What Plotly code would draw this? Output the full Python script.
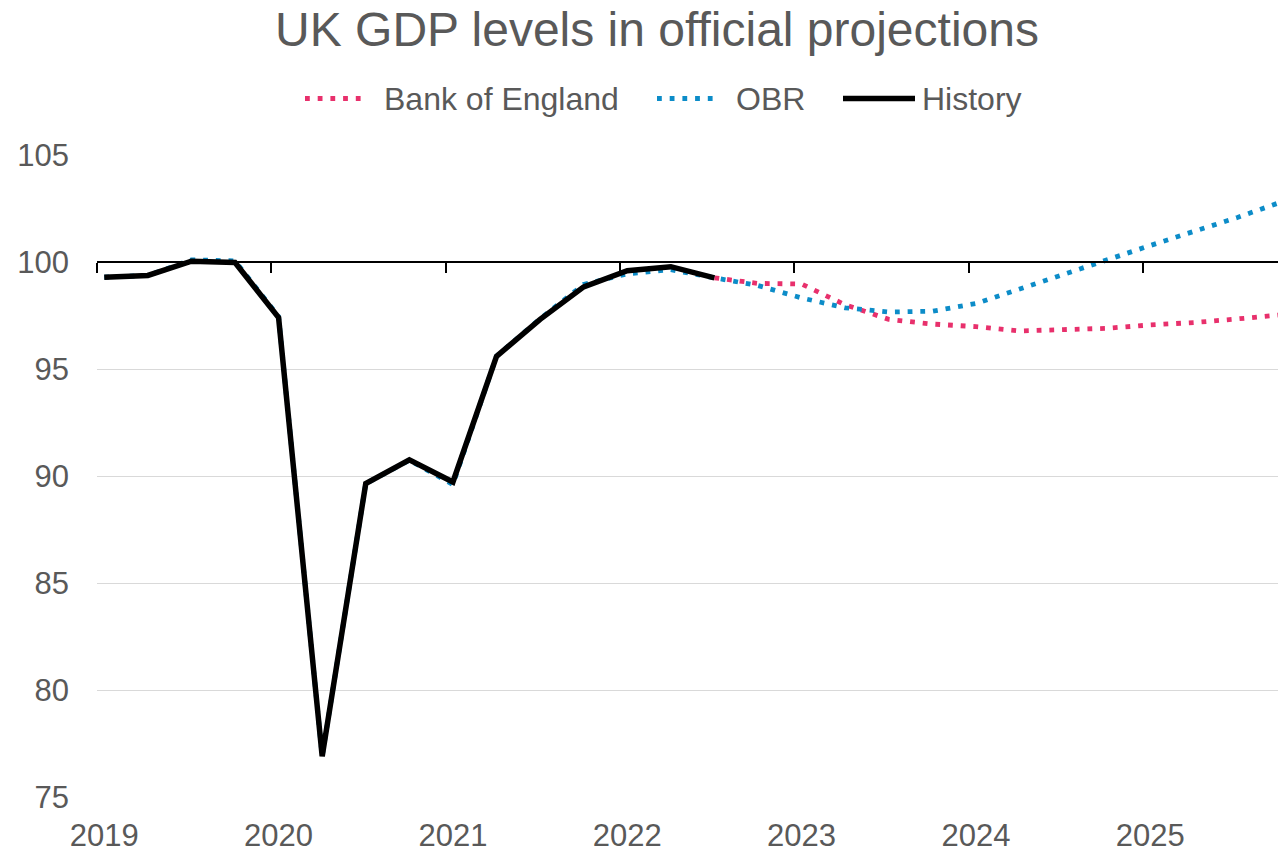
import plotly.graph_objects as go

# Quarterly periods covered by the chart
quarters = [
    "2019 Q1", "2019 Q2", "2019 Q3", "2019 Q4",
    "2020 Q1", "2020 Q2", "2020 Q3", "2020 Q4",
    "2021 Q1", "2021 Q2", "2021 Q3", "2021 Q4",
    "2022 Q1", "2022 Q2", "2022 Q3", "2022 Q4",
    "2023 Q1", "2023 Q2", "2023 Q3", "2023 Q4",
    "2024 Q1", "2024 Q2", "2024 Q3", "2024 Q4",
    "2025 Q1", "2025 Q2", "2025 Q3", "2025 Q4",
]

# Outturn GDP level, 2019 Q1 - 2022 Q3
history = [99.29, 99.37, 100.04, 99.98, 97.40, 76.9, 89.65, 90.76,
           89.72, 95.59, 97.32, 98.84, 99.59, 99.78, 99.26]

# OBR projection (includes its own back-series), 2019 Q1 - 2025 Q4
obr = [99.29, 99.37, 100.10, 100.05, 97.45, 76.9, 89.65, 90.74,
       89.60, 95.60, 97.35, 98.95, 99.45, 99.64, 99.26, 98.90,
       98.32, 97.86, 97.66, 97.70, 98.06, 98.75, 99.43, 100.10,
       100.77, 101.43, 102.08, 102.80]

# Bank of England projection, 2022 Q3 - 2025 Q4
boe = [99.26, 99.00, 98.97, 98.00, 97.32, 97.10, 96.98, 96.78,
       96.84, 96.90, 97.06, 97.17, 97.34, 97.53]

years = [2019, 2020, 2021, 2022, 2023, 2024, 2025]
y_ticks = [75, 80, 85, 90, 95, 100, 105]

colors = {"Bank of England": "#E8306C", "OBR": "#0C8CC8", "History": "#000000"}

TEXT = "#595959"
FONT = "Liberation Sans, Arial, sans-serif"
W, H = 1278, 852
ML, MR, MT, MB = 97, 0, 155, 55
DOT = "4.8px,7.9px"
DOT_W = 4.8
HIST_W = 5.5


def qpos(label):
    # each quarter is placed in the middle of its first month
    y, q = label.split(" Q")
    return int(y) + (int(q) - 1) / 4 + 1 / 24


x_all = [qpos(q) for q in quarters]
x_hist = x_all[:len(history)]
x_boe = x_all[len(quarters) - len(boe):]
x_range = [2019, 2019 + (W - ML) / 174.33]

fig = go.Figure()
fig.add_trace(go.Scatter(x=x_boe, y=boe, mode="lines", name="Bank of England",
                         line=dict(color=colors["Bank of England"], width=DOT_W, dash=DOT),
                         showlegend=False))
fig.add_trace(go.Scatter(x=x_all, y=obr, mode="lines", name="OBR",
                         line=dict(color=colors["OBR"], width=DOT_W, dash=DOT),
                         showlegend=False))
fig.add_trace(go.Scatter(x=x_hist, y=history, mode="lines", name="History",
                         line=dict(color=colors["History"], width=HIST_W),
                         showlegend=False))
# carrier for the axis that crosses at 100
fig.add_trace(go.Scatter(x=[], y=[], xaxis="x2", showlegend=False, hoverinfo="skip"))

# legend drawn by hand above the plot
plot_w = W - ML - MR
plot_h = H - MT - MB


def px_x(px):
    return (px - ML) / plot_w


def px_y(py):
    return (H - MB - py) / plot_h


legend_items = [
    ("Bank of England", 305, 368, 382),
    ("OBR", 657, 720, 734),
    ("History", 843, 915, 920),
]
shapes = []
annotations = []
LEG_Y = 98.5
for name, x0, x1, tx in legend_items:
    if name == "History":
        line = dict(color=colors[name], width=HIST_W)
    else:
        line = dict(color=colors[name], width=DOT_W, dash=DOT)
    shapes.append(dict(type="line", xref="paper", yref="paper",
                       x0=px_x(x0), x1=px_x(x1), y0=px_y(LEG_Y), y1=px_y(LEG_Y),
                       line=line))
    annotations.append(dict(text=name, xref="paper", yref="paper",
                            x=px_x(tx), y=px_y(LEG_Y), xanchor="left", yanchor="middle",
                            showarrow=False, font=dict(size=32, color=TEXT, family=FONT)))

fig.update_layout(
    width=W, height=H, autosize=False,
    margin=dict(l=ML, r=MR, t=MT, b=MB, pad=0),
    paper_bgcolor="white", plot_bgcolor="white",
    font=dict(family=FONT, color=TEXT),
    title=dict(text="UK GDP levels in official projections",
               font=dict(size=48, color=TEXT, family=FONT),
               x=657 / W, xref="container", xanchor="center",
               y=1 - 29 / H, yref="container", yanchor="middle"),
    xaxis=dict(range=x_range, tickvals=[y + 1 / 24 for y in years],
               ticktext=[str(y) for y in years], showgrid=False, zeroline=False,
               showline=False, ticks="", ticklabelstandoff=17,
               tickfont=dict(size=31, color=TEXT)),
    xaxis2=dict(overlaying="x", anchor="free", position=(100 - 75) / (105 - 75),
                range=x_range, tickvals=years, showticklabels=False,
                showgrid=False, zeroline=False, showline=True,
                linecolor="black", linewidth=2, ticks="outside", ticklen=10,
                tickwidth=2, tickcolor="black"),
    yaxis=dict(range=[75, 105], tickvals=y_ticks, showgrid=True,
               gridcolor="#D9D9D9", gridwidth=1.3, zeroline=False, showline=False,
               ticks="", ticklabelstandoff=27, tickfont=dict(size=31, color=TEXT)),
    shapes=shapes,
    annotations=annotations,
)

fig.write_html("out.html")
